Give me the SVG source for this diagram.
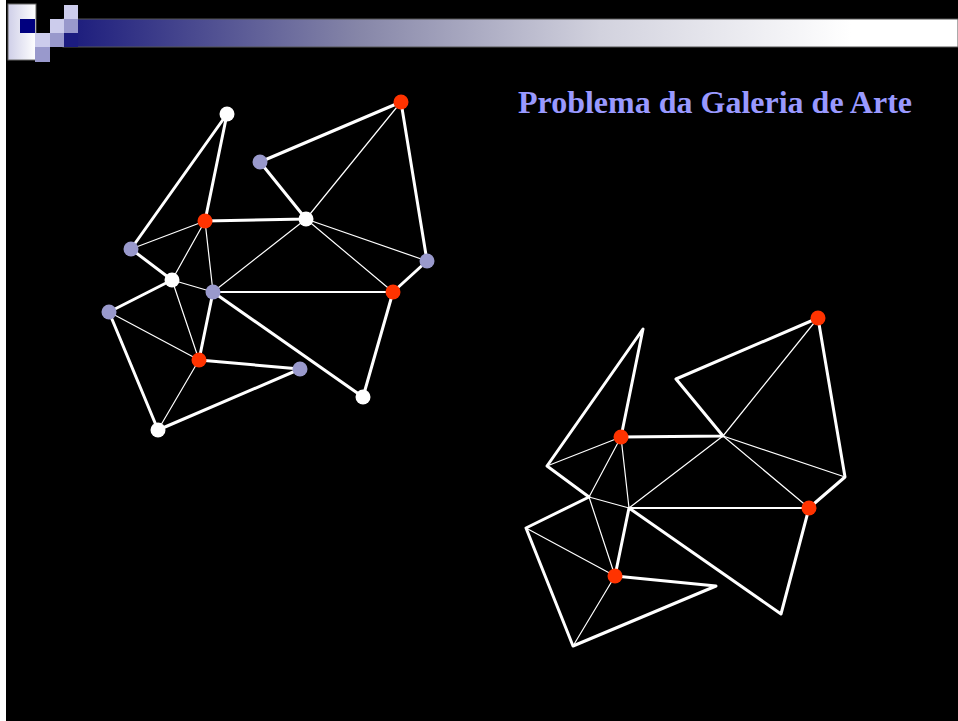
<svg xmlns="http://www.w3.org/2000/svg" width="958" height="721" viewBox="0 0 958 721">
<defs>
<linearGradient id="barGrad" x1="64" y1="0" x2="958" y2="0" gradientUnits="userSpaceOnUse">
<stop offset="0" stop-color="#1a1a7c"/>
<stop offset="0.33" stop-color="#8686a8"/>
<stop offset="0.6" stop-color="#d2d2de"/>
<stop offset="0.88" stop-color="#ffffff"/>
<stop offset="1" stop-color="#ffffff"/>
</linearGradient>
<linearGradient id="boxGrad" x1="0" y1="0" x2="1" y2="0">
<stop offset="0" stop-color="#cfcfe8"/>
<stop offset="1" stop-color="#ffffff"/>
</linearGradient>
</defs>
<style>
.thick{stroke:#fff;stroke-width:3;stroke-linecap:round;stroke-linejoin:round;fill:none}
.med{stroke:#fff;stroke-width:2;stroke-linecap:round}
.thin{stroke:#fff;stroke-width:1.2;stroke-linecap:round}
.red{fill:#ff3300}
.lav{fill:#9999cc}
.wht{fill:#ffffff}
.sq-l{fill:#ccccec}
.sq-m{fill:#9999cc}
.sq-d{fill:#1c1c80}
.title{font-family:"Liberation Serif","Times New Roman",serif;font-weight:bold;font-size:32px;fill:#9999ff}
</style>
<rect x="0" y="0" width="958" height="721" fill="#000"/>
<rect x="0" y="0" width="6" height="721" fill="#fff"/>
<g id="header">
<rect x="63" y="19" width="895" height="28" fill="url(#barGrad)" stroke="#555" stroke-width="1"/>
<rect x="8" y="4" width="28" height="56" fill="url(#boxGrad)" stroke="#666" stroke-width="1"/>
<rect x="20" y="19" width="15" height="14" fill="#00007f"/>
<rect x="35" y="33" width="15" height="14" class="sq-l"/>
<rect x="35" y="47" width="15" height="15" class="sq-m"/>
<rect x="50" y="19" width="14" height="14" class="sq-l"/>
<rect x="50" y="33" width="14" height="14" class="sq-m"/>
<rect x="64" y="5" width="14" height="14" class="sq-l"/>
<rect x="64" y="19" width="14" height="14" class="sq-m"/>
<rect x="64" y="33" width="14" height="14" class="sq-d"/>
</g>
<text class="title" x="518" y="113">Problema da Galeria de Arte</text>
<g id="connectors">
<g id="left-edges">
<polygon class="thick" points="227,114 205,221 306,219 260,162 401,102 427,261 393,292 363,397 213,292 199,360 300,369 158,430 109,312 172,280 131,249"/>
<line class="thin" x1="131" y1="249" x2="205" y2="221"/>
<line class="thin" x1="205" y1="221" x2="172" y2="280"/>
<line class="thin" x1="205" y1="221" x2="213" y2="292"/>
<line class="thin" x1="172" y1="280" x2="213" y2="292"/>
<line class="thin" x1="306" y1="219" x2="213" y2="292"/>
<line class="thin" x1="306" y1="219" x2="401" y2="102"/>
<line class="thin" x1="306" y1="219" x2="427" y2="261"/>
<line class="thin" x1="306" y1="219" x2="393" y2="292"/>
<line class="med" x1="213" y1="292" x2="393" y2="292"/>
<line class="thin" x1="109" y1="312" x2="199" y2="360"/>
<line class="thin" x1="172" y1="280" x2="199" y2="360"/>
<line class="thin" x1="199" y1="360" x2="158" y2="430"/>
</g>
<g id="right-edges">
<polygon class="thick" points="643,329 621,437 723,436 676,379 818,318 845,477 809,508 781,614 629,508 615,576 716,586 573,646 526,528 589,497 547,466"/>
<line class="thin" x1="547" y1="466" x2="621" y2="437"/>
<line class="thin" x1="621" y1="437" x2="589" y2="497"/>
<line class="thin" x1="621" y1="437" x2="629" y2="508"/>
<line class="thin" x1="589" y1="497" x2="629" y2="508"/>
<line class="thin" x1="723" y1="436" x2="629" y2="508"/>
<line class="thin" x1="723" y1="436" x2="818" y2="318"/>
<line class="thin" x1="723" y1="436" x2="845" y2="477"/>
<line class="thin" x1="723" y1="436" x2="809" y2="508"/>
<line class="med" x1="629" y1="508" x2="809" y2="508"/>
<line class="thin" x1="526" y1="528" x2="615" y2="576"/>
<line class="thin" x1="589" y1="497" x2="615" y2="576"/>
<line class="thin" x1="615" y1="576" x2="573" y2="646"/>
</g>
</g>
<g id="nodeA"><circle class="wht" cx="227" cy="114" r="7.5"/></g>
<g id="nodeB"><circle class="red" cx="401" cy="102" r="7.5"/></g>
<g id="nodeC"><circle class="lav" cx="260" cy="162" r="7.5"/></g>
<g id="nodeD"><circle class="red" cx="205" cy="221" r="7.5"/></g>
<g id="nodeE"><circle class="wht" cx="306" cy="219" r="7.5"/></g>
<g id="nodeF"><circle class="lav" cx="131" cy="249" r="7.5"/></g>
<g id="nodeG"><circle class="wht" cx="172" cy="280" r="7.5"/></g>
<g id="nodeH"><circle class="lav" cx="213" cy="292" r="7.5"/></g>
<g id="nodeI"><circle class="lav" cx="427" cy="261" r="7.5"/></g>
<g id="nodeJ"><circle class="red" cx="393" cy="292" r="7.5"/></g>
<g id="nodeK"><circle class="lav" cx="109" cy="312" r="7.5"/></g>
<g id="nodeL"><circle class="red" cx="199" cy="360" r="7.5"/></g>
<g id="nodeM"><circle class="lav" cx="300" cy="369" r="7.5"/></g>
<g id="nodeN"><circle class="wht" cx="363" cy="397" r="7.5"/></g>
<g id="nodeO"><circle class="wht" cx="158" cy="430" r="7.5"/></g>
<g id="nodeB2"><circle class="red" cx="818" cy="318" r="7.5"/></g>
<g id="nodeD2"><circle class="red" cx="621" cy="437" r="7.5"/></g>
<g id="nodeJ2"><circle class="red" cx="809" cy="508" r="7.5"/></g>
<g id="nodeL2"><circle class="red" cx="615" cy="576" r="7.5"/></g>
</svg>
